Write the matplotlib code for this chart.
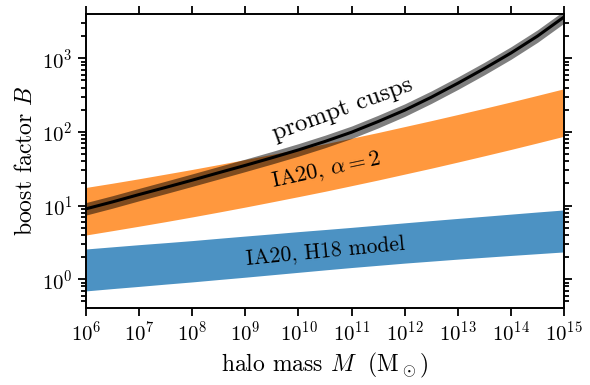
import matplotlib
matplotlib.use("Agg")
import matplotlib.pyplot as plt
import matplotlib.ticker as mticker
import numpy as np

plt.rcParams["font.family"] = "serif"
plt.rcParams["font.serif"] = ["cmr10"]
plt.rcParams["mathtext.fontset"] = "cm"
plt.rcParams["axes.formatter.use_mathtext"] = True

# halo masses (Msun), every half decade from 1e6 to 1e15
mass = [1e6, 3.16e6, 1e7, 3.16e7, 1e8, 3.16e8, 1e9, 3.16e9, 1e10, 3.16e10,
        1e11, 3.16e11, 1e12, 3.16e12, 1e13, 3.16e13, 1e14, 3.16e14, 1e15]
mass_ticks = [1e6, 1e7, 1e8, 1e9, 1e10, 1e11, 1e12, 1e13, 1e14, 1e15]

# prompt cusps: central curve and its band
cusp_mid = [9.02, 11.2, 14.1, 17.6, 22.1, 27.9, 35.1, 44.5, 56.9, 74.1,
            98.9, 138, 197, 295, 457, 724, 1175, 1995, 3630]
cusp_lo = [7.42, 9.21, 11.6, 14.5, 18.2, 22.9, 28.9, 36.6, 46.8, 60.9,
           81.3, 113, 162, 243, 376, 595, 966, 1640, 2985]
cusp_hi = [10.97, 13.6, 17.1, 21.4, 26.9, 33.9, 42.7, 54.1, 69.2, 90.1,
           120, 168, 240, 359, 556, 880, 1429, 2426, 4414]

# IA20 with alpha = 2
ia20_a2_lo = [3.98, 4.56, 5.24, 6.04, 7.00, 8.15, 9.53, 11.2, 13.2, 15.6,
              18.6, 22.2, 26.7, 32.1, 38.9, 47.3, 57.7, 70.8, 87.2]
ia20_a2_hi = [17.6, 20.1, 23.1, 26.7, 30.9, 36.0, 42.1, 49.5, 58.3, 68.9,
              82.1, 98.0, 118, 142, 172, 209, 255, 313, 385]

# IA20 with H18 model
ia20_h18_lo = [0.693, 0.745, 0.798, 0.857, 0.918, 0.989, 1.064, 1.148, 1.239, 1.337,
               1.439, 1.542, 1.652, 1.758, 1.871, 1.982, 2.099, 2.218, 2.344]
ia20_h18_hi = [2.57, 2.75, 2.94, 3.13, 3.34, 3.59, 3.85, 4.12, 4.42, 4.72,
               5.05, 5.42, 5.82, 6.24, 6.68, 7.14, 7.64, 8.17, 8.71]

fig = plt.figure(figsize=(5.9, 3.85), dpi=100)
ax = fig.add_axes([0.1458, 0.2008, 0.8102, 0.7628])

ax.fill_between(mass, ia20_h18_lo, ia20_h18_hi, color="tab:blue", alpha=0.8, lw=0)
ax.fill_between(mass, ia20_a2_lo, ia20_a2_hi, color="tab:orange", alpha=0.8, lw=0)
ax.fill_between(mass, cusp_lo, cusp_hi, color="k", alpha=0.5, lw=0)
ax.plot(mass, cusp_mid, color="k", lw=2.2)

ax.set_xscale("log")
ax.set_yscale("log")
ax.set_xlim(1e6, 1e15)
ax.set_ylim(0.41, 3980)

ax.set_xticks(mass_ticks)
ax.xaxis.set_minor_locator(mticker.NullLocator())
ax.yaxis.set_minor_locator(mticker.LogLocator(base=10, subs=np.arange(2, 10), numticks=20))
ax.yaxis.set_minor_formatter(mticker.NullFormatter())

ax.tick_params(which="both", direction="out", top=True, right=True, width=1.3)
ax.tick_params(which="major", length=6, labelsize=15, labeltop=False, labelright=False)
ax.tick_params(which="minor", length=3.5)
for s in ax.spines.values():
    s.set_linewidth(1.4)

ax.set_xlabel(r"halo mass $M\ $ ($\mathrm{M}_\odot$)", fontsize=17)
ax.set_ylabel(r"boost factor $B$", fontsize=17)

ax.text(6.9e10, 200, "prompt cusps", fontsize=18, rotation=20,
        ha="center", va="center")
ax.text(3.3e10, 30, r"IA20, $\alpha=2$", fontsize=16, rotation=12,
        ha="center", va="center")
ax.text(3.2e10, 2.4, "IA20, H18 model", fontsize=15.5, rotation=5.5,
        ha="center", va="center")

fig.savefig("out.png", dpi=100)
